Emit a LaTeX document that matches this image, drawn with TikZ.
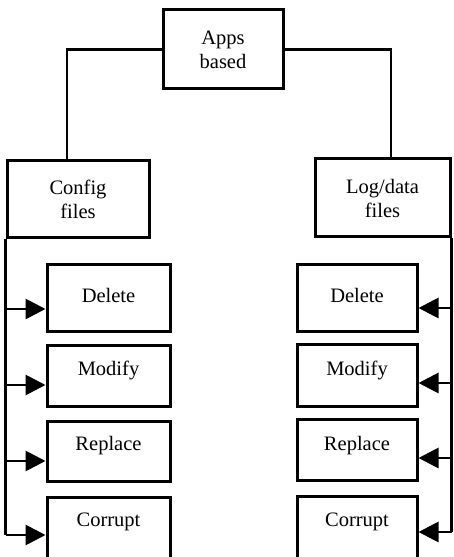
\documentclass[tikz,border=0pt]{standalone}
\usepackage{fontspec}
\setmainfont{Liberation Serif}
\usetikzlibrary{arrows.meta}
\begin{document}
\begin{tikzpicture}[x=1pt,y=1pt,
  line width=3pt,
  box/.style={draw, rectangle, inner sep=0pt},
  txt/.style={align=center, font=\fontsize{20.5}{24}\selectfont},
  arr/.style={-{Triangle[length=20pt,width=20pt]}, line width=2.8pt},
  link/.style={line width=2.8pt}]
\useasboundingbox (0,0) rectangle (453,557);
\clip (0,0) rectangle (453,557);

% root and the two file groups
\node[box, minimum width=120pt, minimum height=79pt, txt] (apps) at (223,507.5) {Apps\\based};
\node[box, minimum width=142pt, minimum height=77pt, txt] (cfg) at (78,357.5) {Config\\files};
\node[box, minimum width=135pt, minimum height=78pt, txt] (log) at (382.5,359) {Log/data\\files};

% actions on config files
\node[box, minimum width=123pt, minimum height=67pt] (ldel) at (108.5,258.5) {};
\node[box, minimum width=123pt, minimum height=61pt] (lmod) at (108.5,180.5) {};
\node[box, minimum width=123pt, minimum height=60pt] (lrep) at (108.5,105) {};
\node[box, minimum width=123pt, minimum height=72pt] (lcor) at (108.5,23) {};
\node[txt] at ([yshift=3.5pt]ldel.center) {Delete};
\node[txt] at ([yshift=6.5pt]lmod.center) {Modify};
\node[txt] at ([yshift=6pt]lrep.center) {Replace};
\node[txt] at ([yshift=12pt]lcor.center) {Corrupt};

% actions on log/data files
\node[box, minimum width=120pt, minimum height=67pt] (rdel) at (357,258.5) {};
\node[box, minimum width=120pt, minimum height=62pt] (rmod) at (357,181) {};
\node[box, minimum width=120pt, minimum height=61pt] (rrep) at (357,106.5) {};
\node[box, minimum width=120pt, minimum height=73pt] (rcor) at (357,23.5) {};
\node[txt] at ([yshift=3.5pt]rdel.center) {Delete};
\node[txt] at ([yshift=6pt]rmod.center) {Modify};
\node[txt] at ([yshift=5pt]rrep.center) {Replace};
\node[txt] at ([yshift=12pt]rcor.center) {Corrupt};

% root to groups
\draw[link] (apps.west) -| ([xshift=-11pt]cfg.north);
\draw[link] (apps.east) -| ([xshift=8.5pt]log.north);

% arrow entry points
\coordinate (la1) at ([yshift=-10.5pt]ldel.west);
\coordinate (la2) at ([yshift=-8.5pt]lmod.west);
\coordinate (la3) at ([yshift=-9pt]lrep.west);
\coordinate (la4) at ([yshift=-1pt]lcor.west);
\coordinate (ra1) at ([yshift=-9.5pt]rdel.east);
\coordinate (ra2) at ([yshift=-7pt]rmod.east);
\coordinate (ra3) at ([yshift=-7.5pt]rrep.east);
\coordinate (ra4) at ([yshift=1.5pt]rcor.east);

% left trunk with branches
\draw[link] (cfg.south west) -- (cfg.south west |- la4);
\foreach \p in {la1,la2,la3,la4}
  \draw[arr] (cfg.south west |- \p) -- (\p);

% right trunk with branches
\draw[link] (log.south east) -- (log.south east |- ra4);
\foreach \p in {ra1,ra2,ra3,ra4}
  \draw[arr] (log.south east |- \p) -- (\p);
\end{tikzpicture}
\end{document}
